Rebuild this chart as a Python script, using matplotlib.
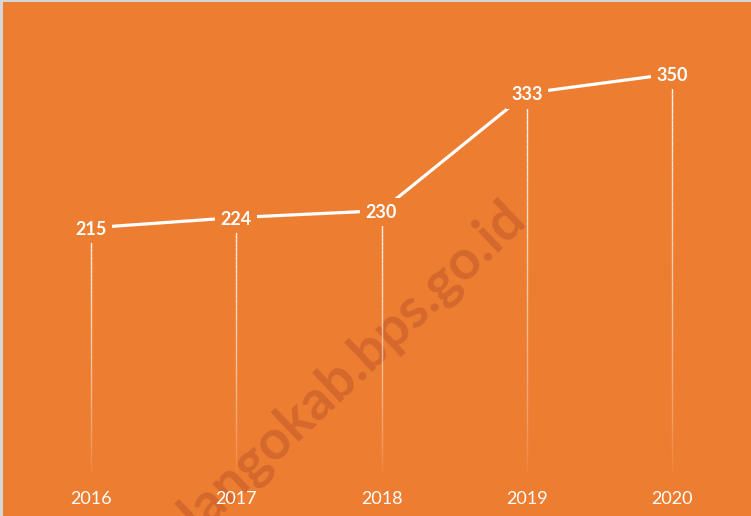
import numpy as np
import matplotlib.pyplot as plt
from matplotlib.collections import LineCollection
from matplotlib.patches import Rectangle

years = ['2016', '2017', '2018', '2019', '2020']
values = [215, 224, 230, 333, 350]
watermark = 'bonebolangokab.bps.go.id'

bg = '#ED7D31'
W, H = 751, 516

fig = plt.figure(figsize=(W / 100, H / 100), dpi=100)
fig.patch.set_facecolor('#d6d6d6')
fig.patches.append(Rectangle((3 / W, 0), 1, (H - 2) / H, transform=fig.transFigure,
                             facecolor=bg, edgecolor='none', zorder=-5))

# watermark (behind the chart)
fig.text(297 / W, 1 - 440 / H, watermark, rotation=43.5, rotation_mode='anchor',
         ha='center', va='baseline', fontsize=39.5, fontweight='bold', family='Lato',
         color='#D5692D', zorder=-1)

ax = fig.add_axes([3 / W, 43 / H, 748 / W, 471 / H])
ax.set_zorder(2)
ax.set_facecolor('none')
x = np.arange(len(years))
ax.set_xlim(-0.606, 4.544)
ax.set_ylim(0, 413)

# drop lines fading out towards the axis
segs, cols = [], []
n = 60
for xi, v in zip(x, values):
    ys = np.linspace(v, 0, n + 1)
    for k in range(n):
        segs.append([(xi, ys[k]), (xi, ys[k + 1])])
        cols.append((1, 1, 1, 0.95 * (1 - k / n) ** 0.7))
ax.add_collection(LineCollection(segs, colors=cols, linewidths=1.0, zorder=2))

# main line with value labels
ax.plot(x, values, color='white', lw=2.3, zorder=3, solid_capstyle='butt')
for xi, v in zip(x, values):
    ax.text(xi, v, str(v), ha='center', va='center_baseline', color='white',
            fontsize=13, fontweight='bold', family='Lato',
            bbox=dict(boxstyle='square,pad=0.3', fc=bg, ec='none'), zorder=4)

ax.set_xticks(x, years)
ax.set_yticks([])
ax.tick_params(axis='x', length=0, pad=13, labelsize=13, labelcolor='white')
for lbl in ax.get_xticklabels():
    lbl.set_family('Lato')
for s in ax.spines.values():
    s.set_visible(False)

fig.savefig('out.png', dpi=100, facecolor=fig.get_facecolor())
